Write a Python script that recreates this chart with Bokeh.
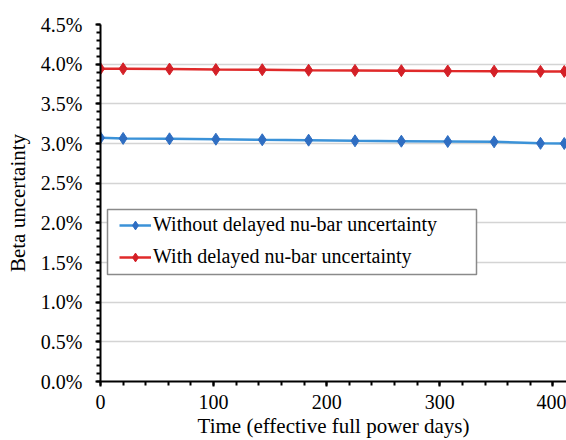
from bokeh.plotting import figure
from bokeh.models import Range1d, FixedTicker, PrintfTickFormatter, Legend, BoxAnnotation
from bokeh.embed import file_html
from bokeh.resources import INLINE

# Data
days = [0, 20, 61, 102, 143, 184, 225, 266, 307, 348, 389, 410]
without_nubar = [3.072, 3.064, 3.059, 3.054, 3.047, 3.042, 3.034, 3.029, 3.025, 3.021, 3.002, 3.000]
with_nubar = [3.943, 3.942, 3.938, 3.932, 3.930, 3.923, 3.921, 3.918, 3.914, 3.912, 3.909, 3.908]
series_labels = ["Without delayed nu-bar uncertainty", "With delayed nu-bar uncertainty"]
x_ticks = [0, 100, 200, 300, 400]
y_ticks = [0.0, 0.5, 1.0, 1.5, 2.0, 2.5, 3.0, 3.5, 4.0, 4.5]

FONT = "Liberation Serif"

p = figure(width=566, height=440, output_backend="svg", toolbar_location=None,
           x_range=Range1d(0, 412), y_range=Range1d(0, 4.5),
           min_border_left=100, min_border_right=0, min_border_top=24, min_border_bottom=59)
p.outline_line_color = None
p.background_fill_color = "white"
p.border_fill_color = "white"

# grid
p.xgrid.grid_line_color = None
p.ygrid.grid_line_color = "#d4d4d4"
p.ygrid.grid_line_width = 1.5
p.ygrid.ticker = FixedTicker(ticks=y_ticks)

# axes
p.xaxis.ticker = FixedTicker(ticks=x_ticks, minor_ticks=list(range(0, 420, 20)))
p.yaxis.ticker = FixedTicker(ticks=y_ticks, minor_ticks=[i / 10 for i in range(46)])
p.yaxis.formatter = PrintfTickFormatter(format="%.1f%%")
for ax in (p.xaxis[0], p.yaxis[0]):
    ax.axis_line_color = "black"
    ax.axis_line_width = 2
    ax.major_tick_line_color = "black"
    ax.major_tick_line_width = 2
    ax.minor_tick_line_color = "black"
    ax.minor_tick_line_width = 2
    ax.major_tick_in = 0
    ax.major_tick_out = 5
    ax.minor_tick_in = 0
    ax.minor_tick_out = 4
    ax.major_label_text_font = FONT
    ax.major_label_text_font_size = "20px"
    ax.major_label_text_color = "black"
    ax.axis_label_text_font = FONT
    ax.axis_label_text_font_size = "21px"
    ax.axis_label_text_font_style = "normal"
    ax.axis_label_text_color = "black"

p.xaxis.axis_label = "Time (effective full power days)"
p.yaxis.axis_label = "Beta uncertainty"
p.xaxis.major_label_standoff = 8
p.yaxis.major_label_standoff = 13
p.xaxis.axis_label_standoff = 2
p.yaxis.axis_label_standoff = 8

# series
l1 = p.line(days, without_nubar, line_color="#3b92d8", line_width=2.5)
m1 = p.scatter(days, without_nubar, marker="diamond", size=12,
               fill_color="#2f6ec2", line_color="#2f6ec2")
l2 = p.line(days, with_nubar, line_color="#e02a2a", line_width=2.5)
m2 = p.scatter(days, with_nubar, marker="diamond", size=12,
               fill_color="#d42027", line_color="#d42027")

# legend frame
box = BoxAnnotation(left=7, right=376, bottom=107, top=172,
                    left_units="screen", right_units="screen",
                    bottom_units="screen", top_units="screen",
                    fill_color="white", fill_alpha=1,
                    line_color="#8a8a8a", line_width=1.5, line_alpha=1,
                    editable=False)
p.add_layout(box)

legend = Legend(items=[(series_labels[0], [l1, m1]), (series_labels[1], [l2, m2])],
                location=(19, 113), orientation="vertical")
legend.label_text_font = FONT
legend.label_text_font_size = "20px"
legend.label_text_color = "black"
legend.border_line_color = None
legend.background_fill_alpha = 0
legend.glyph_width = 32
legend.glyph_height = 22
legend.label_standoff = 2
legend.padding = 8
legend.margin = 0
legend.spacing = 9
legend.label_height = 22
p.add_layout(legend, "center")

open("out.html", "w").write(file_html(p, INLINE))
